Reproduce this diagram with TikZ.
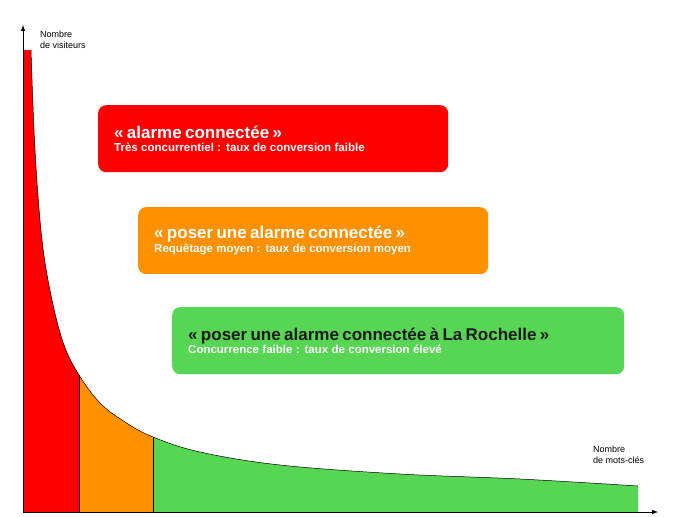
\documentclass[tikz,border=0pt]{standalone}
\usepackage{fontspec}
\setmainfont{Liberation Sans}
\begin{document}
\begin{tikzpicture}[x=1pt,y=-1pt,
  lbl/.style={font=\fontsize{9}{11}\selectfont, align=left, anchor=north west, inner sep=0},
  box/.style={rounded corners=8pt, anchor=north west, minimum height=67pt, align=left, inner xsep=16pt, text width=#1}]
\definecolor{cred}{HTML}{FF0000}
\definecolor{corange}{HTML}{FF9100}
\definecolor{cgreen}{HTML}{57D654}
\useasboundingbox (0,0) rectangle (673,517);
\def\curve{(31,50) -- plot[smooth,tension=0.6] coordinates {(31,50) (35,150) (42,240) (52,300) (64,345) (79,375) (100,403) (125,422) (153,437) (200,452) (280,465) (400,474) (520,479) (638,486)}}
\foreach \a/\b/\c in {23/79/cred,79/153/corange,153/638/cgreen}{
  \begin{scope}
  \clip (\a,0) rectangle (\b,512);
  \fill[\c] (23,512) -- (23,50) -- \curve -- (638,512) -- cycle;
  \end{scope}}
\draw[line width=0.5pt] plot[smooth,tension=0.6] coordinates {(31,50) (35,150) (42,240) (52,300) (64,345) (79,375) (100,403) (125,422) (153,437) (200,452) (280,465) (400,474) (520,479) (638,486)};
\draw[line width=0.6pt] (79,512) -- (79,375);
\draw[line width=0.6pt] (153,512) -- (153,437);
\coordinate (o) at (23,512);
\coordinate (ytop) at (23,25);
\coordinate (xend) at (658,512);
\draw[line width=1pt,-latex] (o) -- (ytop);
\draw[line width=1pt,-latex] (o) -- (xend);
\node[lbl] (yl) at (40,31) {Nombre\\de visiteurs};
\node[lbl] (xl) at (593,446) {Nombre\\de mots-clés};
\node[box=318pt, fill=cred, text=white] (b1) at (98,105) {{\fontsize{17}{21}\selectfont\bfseries « alarme connectée »}\\[1pt]{\fontsize{11.5}{14}\selectfont\bfseries Très concurrentiel : taux de conversion faible}};
\node[box=318pt, fill=corange, text=white] (b2) at (138,207) {{\fontsize{17}{21}\selectfont\bfseries « poser une alarme connectée »}\\[1pt]{\fontsize{11.5}{14}\selectfont\bfseries Requêtage moyen : taux de conversion moyen}};
\node[box=420pt, fill=cgreen, text=white] (b3) at (172,307) {{\fontsize{17}{21}\selectfont\bfseries\color{black!90} « poser une alarme connectée à La Rochelle »}\\[1pt]{\fontsize{11.5}{14}\selectfont\bfseries Concurrence faible : taux de conversion élevé}};
\end{tikzpicture}
\end{document}
